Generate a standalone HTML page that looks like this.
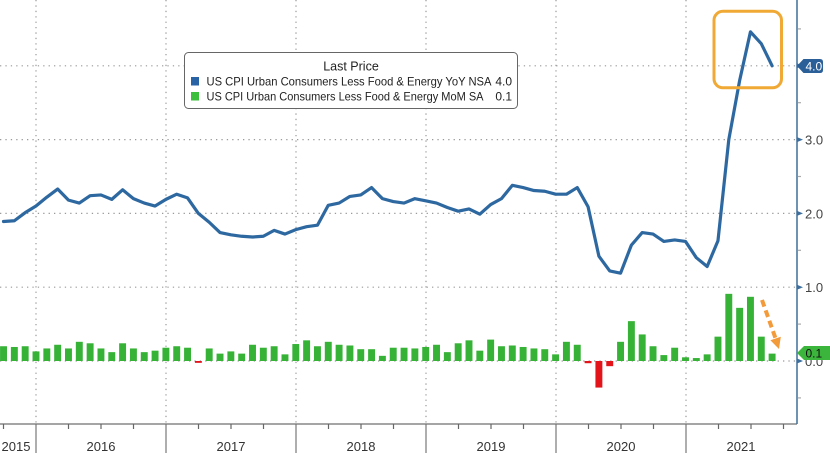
<!DOCTYPE html>
<html>
<head>
<meta charset="utf-8">
<style>
  html,body{margin:0;padding:0;background:#fff;}
  svg{display:block;}
  text{font-family:"Liberation Sans", sans-serif;}
</style>
</head>
<body>
<svg width="830" height="453" viewBox="0 0 830 453" xmlns="http://www.w3.org/2000/svg">
  <rect x="0" y="0" width="830" height="453" fill="#fff"/>

  <g stroke="#9a9a9a" stroke-width="1.2" stroke-dasharray="1.3 4.1" fill="none">
    <line x1="0" y1="65.8" x2="796" y2="65.8"/>
    <line x1="0" y1="139.6" x2="796" y2="139.6"/>
    <line x1="0" y1="213.4" x2="796" y2="213.4"/>
    <line x1="0" y1="287.2" x2="796" y2="287.2"/>
    <line x1="0" y1="361" x2="796" y2="361"/>
    <line x1="36" y1="0" x2="36" y2="424"/>
    <line x1="166" y1="0" x2="166" y2="424"/>
    <line x1="296" y1="0" x2="296" y2="424"/>
    <line x1="426" y1="0" x2="426" y2="424"/>
    <line x1="556" y1="0" x2="556" y2="424"/>
    <line x1="686" y1="0" x2="686" y2="424"/>
  </g>

  <g transform="translate(36,361) scale(10.825,-73.8)">
    <g fill="#36b236">
      <rect x="-3.32" y="0" width="0.64" height="0.20"/>
      <rect x="-2.32" y="0" width="0.64" height="0.19"/>
      <rect x="-1.32" y="0" width="0.64" height="0.20"/>
      <rect x="-0.32" y="0" width="0.64" height="0.13"/>
      <rect x="0.68" y="0" width="0.64" height="0.17"/>
      <rect x="1.68" y="0" width="0.64" height="0.22"/>
      <rect x="2.68" y="0" width="0.64" height="0.17"/>
      <rect x="3.68" y="0" width="0.64" height="0.26"/>
      <rect x="4.68" y="0" width="0.64" height="0.24"/>
      <rect x="5.68" y="0" width="0.64" height="0.17"/>
      <rect x="6.68" y="0" width="0.64" height="0.12"/>
      <rect x="7.68" y="0" width="0.64" height="0.24"/>
      <rect x="8.68" y="0" width="0.64" height="0.17"/>
      <rect x="9.68" y="0" width="0.64" height="0.12"/>
      <rect x="10.68" y="0" width="0.64" height="0.14"/>
      <rect x="11.68" y="0" width="0.64" height="0.18"/>
      <rect x="12.68" y="0" width="0.64" height="0.20"/>
      <rect x="13.68" y="0" width="0.64" height="0.18"/>
      <rect x="15.68" y="0" width="0.64" height="0.17"/>
      <rect x="16.68" y="0" width="0.64" height="0.10"/>
      <rect x="17.68" y="0" width="0.64" height="0.13"/>
      <rect x="18.68" y="0" width="0.64" height="0.10"/>
      <rect x="19.68" y="0" width="0.64" height="0.22"/>
      <rect x="20.68" y="0" width="0.64" height="0.18"/>
      <rect x="21.68" y="0" width="0.64" height="0.20"/>
      <rect x="22.68" y="0" width="0.64" height="0.09"/>
      <rect x="23.68" y="0" width="0.64" height="0.23"/>
      <rect x="24.68" y="0" width="0.64" height="0.28"/>
      <rect x="25.68" y="0" width="0.64" height="0.20"/>
      <rect x="26.68" y="0" width="0.64" height="0.26"/>
      <rect x="27.68" y="0" width="0.64" height="0.22"/>
      <rect x="28.68" y="0" width="0.64" height="0.21"/>
      <rect x="29.68" y="0" width="0.64" height="0.16"/>
      <rect x="30.68" y="0" width="0.64" height="0.16"/>
      <rect x="31.68" y="0" width="0.64" height="0.07"/>
      <rect x="32.68" y="0" width="0.64" height="0.18"/>
      <rect x="33.68" y="0" width="0.64" height="0.18"/>
      <rect x="34.68" y="0" width="0.64" height="0.17"/>
      <rect x="35.68" y="0" width="0.64" height="0.19"/>
      <rect x="36.68" y="0" width="0.64" height="0.22"/>
      <rect x="37.68" y="0" width="0.64" height="0.12"/>
      <rect x="38.68" y="0" width="0.64" height="0.24"/>
      <rect x="39.68" y="0" width="0.64" height="0.28"/>
      <rect x="40.68" y="0" width="0.64" height="0.14"/>
      <rect x="41.68" y="0" width="0.64" height="0.29"/>
      <rect x="42.68" y="0" width="0.64" height="0.20"/>
      <rect x="43.68" y="0" width="0.64" height="0.21"/>
      <rect x="44.68" y="0" width="0.64" height="0.19"/>
      <rect x="45.68" y="0" width="0.64" height="0.17"/>
      <rect x="46.68" y="0" width="0.64" height="0.16"/>
      <rect x="47.68" y="0" width="0.64" height="0.09"/>
      <rect x="48.68" y="0" width="0.64" height="0.26"/>
      <rect x="49.68" y="0" width="0.64" height="0.22"/>
      <rect x="53.68" y="0" width="0.64" height="0.26"/>
      <rect x="54.68" y="0" width="0.64" height="0.54"/>
      <rect x="55.68" y="0" width="0.64" height="0.36"/>
      <rect x="56.68" y="0" width="0.64" height="0.20"/>
      <rect x="57.68" y="0" width="0.64" height="0.08"/>
      <rect x="58.68" y="0" width="0.64" height="0.18"/>
      <rect x="59.68" y="0" width="0.64" height="0.05"/>
      <rect x="60.68" y="0" width="0.64" height="0.04"/>
      <rect x="61.68" y="0" width="0.64" height="0.09"/>
      <rect x="62.68" y="0" width="0.64" height="0.33"/>
      <rect x="63.68" y="0" width="0.64" height="0.91"/>
      <rect x="64.68" y="0" width="0.64" height="0.72"/>
      <rect x="65.68" y="0" width="0.64" height="0.87"/>
      <rect x="66.68" y="0" width="0.64" height="0.33"/>
      <rect x="67.68" y="0" width="0.64" height="0.10"/>
    </g>
    <g fill="#e3151b">
      <rect x="14.68" y="-0.025" width="0.64" height="0.025"/>
      <rect x="50.68" y="-0.03" width="0.64" height="0.03"/>
      <rect x="51.68" y="-0.36" width="0.64" height="0.36"/>
      <rect x="52.68" y="-0.07" width="0.64" height="0.07"/>
    </g>
    <polyline fill="none" stroke="#2e68a0" stroke-width="3.2" stroke-linejoin="round" stroke-linecap="round" vector-effect="non-scaling-stroke"
      points="-3,1.89 -2,1.90 -1,2.01 0,2.10 1,2.22 2,2.33 3,2.18 4,2.14 5,2.24 6,2.25 7,2.19 8,2.32 9,2.20 10,2.14 11,2.10 12,2.19 13,2.26 14,2.21 15,2.00 16,1.88 17,1.74 18,1.71 19,1.69 20,1.68 21,1.69 22,1.77 23,1.72 24,1.78 25,1.82 26,1.84 27,2.11 28,2.14 29,2.23 30,2.25 31,2.35 32,2.20 33,2.16 34,2.14 35,2.20 36,2.17 37,2.14 38,2.08 39,2.03 40,2.06 41,1.99 42,2.12 43,2.20 44,2.38 45,2.35 46,2.31 47,2.30 48,2.26 49,2.26 50,2.35 51,2.09 52,1.42 53,1.22 54,1.19 55,1.57 56,1.74 57,1.72 58,1.62 59,1.64 60,1.62 61,1.40 62,1.28 63,1.63 64,3.00 65,3.80 66,4.46 67,4.30 68,4.00"/>
  </g>

  <line x1="0" y1="424" x2="797" y2="424" stroke="#6f6f6f" stroke-width="1.2"/>
  <g stroke="#777" stroke-width="1.2">
    <line x1="36" y1="424" x2="36" y2="453"/>
    <line x1="166" y1="424" x2="166" y2="453"/>
    <line x1="296" y1="424" x2="296" y2="453"/>
    <line x1="426" y1="424" x2="426" y2="453"/>
    <line x1="556" y1="424" x2="556" y2="453"/>
    <line x1="686" y1="424" x2="686" y2="453"/>
  </g>
  <g stroke="#666" stroke-width="1.2">
    <line x1="3.5" y1="424" x2="3.5" y2="429"/>
    <line x1="68.5" y1="424" x2="68.5" y2="429"/>
    <line x1="101" y1="424" x2="101" y2="429"/>
    <line x1="133.5" y1="424" x2="133.5" y2="429"/>
    <line x1="198.5" y1="424" x2="198.5" y2="429"/>
    <line x1="231" y1="424" x2="231" y2="429"/>
    <line x1="263.5" y1="424" x2="263.5" y2="429"/>
    <line x1="328.5" y1="424" x2="328.5" y2="429"/>
    <line x1="361" y1="424" x2="361" y2="429"/>
    <line x1="393.5" y1="424" x2="393.5" y2="429"/>
    <line x1="458.5" y1="424" x2="458.5" y2="429"/>
    <line x1="491" y1="424" x2="491" y2="429"/>
    <line x1="523.5" y1="424" x2="523.5" y2="429"/>
    <line x1="588.5" y1="424" x2="588.5" y2="429"/>
    <line x1="621" y1="424" x2="621" y2="429"/>
    <line x1="653.5" y1="424" x2="653.5" y2="429"/>
    <line x1="718.5" y1="424" x2="718.5" y2="429"/>
    <line x1="751" y1="424" x2="751" y2="429"/>
    <line x1="783.5" y1="424" x2="783.5" y2="429"/>
  </g>
  <g font-size="13" fill="#333" text-anchor="middle">
    <text x="16" y="451">2015</text>
    <text x="101" y="451">2016</text>
    <text x="231" y="451">2017</text>
    <text x="361" y="451">2018</text>
    <text x="491" y="451">2019</text>
    <text x="621" y="451">2020</text>
    <text x="741" y="451">2021</text>
  </g>

  <line x1="797" y1="0" x2="797" y2="424" stroke="#3d6e9c" stroke-width="1.5"/>
  <g fill="#3d6e9c">
    <polygon points="797,63.3 803,65.8 797,68.3"/>
    <polygon points="797,137.1 803,139.6 797,142.1"/>
    <polygon points="797,210.9 803,213.4 797,215.9"/>
    <polygon points="797,284.7 803,287.2 797,289.7"/>
    <polygon points="797,358.5 803,361 797,363.5"/>
  </g>
  <g stroke="#aaa" stroke-width="1.2">
    <line x1="798" y1="28.9" x2="801" y2="28.9"/>
    <line x1="798" y1="102.7" x2="801" y2="102.7"/>
    <line x1="798" y1="176.5" x2="801" y2="176.5"/>
    <line x1="798" y1="250.3" x2="801" y2="250.3"/>
    <line x1="798" y1="324.1" x2="801" y2="324.1"/>
    <line x1="798" y1="397.9" x2="801" y2="397.9"/>
  </g>
  <g font-size="13" fill="#444">
    <text x="805" y="144.5">3.0</text>
    <text x="805" y="218.3">2.0</text>
    <text x="805" y="292">1.0</text>
    <text x="805" y="366">0.0</text>
  </g>
  <path d="M797,66 L803.5,59 L820,59 Q823,59 823,62 L823,70 Q823,73 820,73 L803.5,73 Z" fill="#2b5f98"/>
  <text x="805.5" y="70.5" font-size="12" fill="#fff">4.0</text>
  <path d="M797,353 L804,346 L830,346 L830,360 L804,360 Z" fill="#3cb53c"/>
  <text x="805.5" y="357.5" font-size="12" fill="#111">0.1</text>

  <rect x="184.5" y="52.5" width="333" height="56" rx="4" ry="4" fill="#fff" stroke="#666" stroke-width="1"/>
  <text x="351" y="70.5" font-size="12.5" fill="#222" text-anchor="middle">Last Price</text>
  <rect x="191" y="77" width="8" height="8.5" fill="#2a62a6"/>
  <text x="206.5" y="85.5" font-size="12" fill="#222" textLength="285" lengthAdjust="spacingAndGlyphs">US CPI Urban Consumers Less Food &amp; Energy YoY NSA</text>
  <text x="512" y="85.5" font-size="12" fill="#222" text-anchor="end">4.0</text>
  <rect x="191" y="92" width="8" height="8.5" fill="#3cbf3c"/>
  <text x="206.5" y="100.5" font-size="12" fill="#222" textLength="277" lengthAdjust="spacingAndGlyphs">US CPI Urban Consumers Less Food &amp; Energy MoM SA</text>
  <text x="512" y="100.5" font-size="12" fill="#222" text-anchor="end">0.1</text>

  <rect x="714" y="11.3" width="67.5" height="76.5" rx="9" ry="9" fill="none" stroke="#f1a935" stroke-width="3"/>

  <line x1="762" y1="300" x2="775.6" y2="338.5" stroke="#f39a3a" stroke-width="4" stroke-dasharray="7 4"/>
  <polygon points="779,349 780.8,336.8 770.4,340.2" fill="#f39a3a"/>
</svg>
</body>
</html>
